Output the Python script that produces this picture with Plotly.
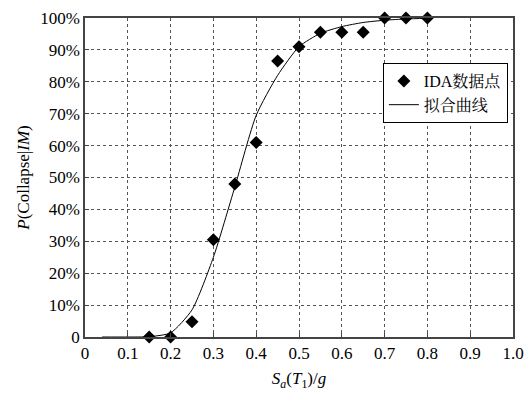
import plotly.graph_objects as go

# IDA data points
ida_x = [0.15, 0.2, 0.25, 0.3, 0.35, 0.4, 0.45, 0.5, 0.55, 0.6, 0.65, 0.7, 0.75, 0.8]
ida_y = [0.0, 0.0, 4.8, 30.5, 48.0, 61.0, 86.5, 91.0, 95.5, 95.5, 95.5, 100.0, 100.0, 100.0]

# fitted curve
fit_x = [0.04, 0.1, 0.15, 0.2, 0.25, 0.3, 0.35, 0.4, 0.45, 0.5, 0.55, 0.6, 0.65, 0.7, 0.75, 0.8]
fit_y = [0.0, 0.0, 0.1, 1.3, 8.5, 25.0, 47.0, 69.5, 82.0, 91.0, 95.2, 97.3, 98.6, 99.3, 99.7, 99.9]

x_ticks = [0, 0.1, 0.2, 0.3, 0.4, 0.5, 0.6, 0.7, 0.8, 0.9, 1.0]
x_labels = ["0", "0.1", "0.2", "0.3", "0.4", "0.5", "0.6", "0.7", "0.8", "0.9", "1.0"]
y_ticks = [0, 10, 20, 30, 40, 50, 60, 70, 80, 90, 100]
y_labels = ["0", "10%", "20%", "30%", "40%", "50%", "60%", "70%", "80%", "90%", "100%"]

FONT = "Liberation Serif, Noto Serif CJK SC, Noto Sans CJK SC, serif"

fig = go.Figure()
fig.add_trace(go.Scatter(
    x=ida_x, y=ida_y, mode="markers", name="IDA数据点",
    marker=dict(symbol="diamond", size=10, color="black"),
    cliponaxis=False,
))
fig.add_trace(go.Scatter(
    x=fit_x, y=fit_y, mode="lines", name="拟合曲线",
    line=dict(color="black", width=1, shape="spline", smoothing=0.6),
    cliponaxis=False,
))

axis_common = dict(
    showline=True, linecolor="#444", linewidth=1.5, mirror=True,
    ticks="inside", ticklen=4, tickcolor="#444",
    showgrid=True, gridcolor="#555", griddash="dot", gridwidth=1,
    zeroline=False, automargin=False,
    tickfont=dict(family=FONT, size=17, color="black"),
)

fig.update_layout(
    width=527, height=398,
    margin=dict(l=85, r=14, t=18, b=61),
    paper_bgcolor="white", plot_bgcolor="white",
    font=dict(family=FONT, color="black"),
    showlegend=True,
    legend=dict(
        x=0.988, y=0.859, xanchor="right", yanchor="top",
        bgcolor="white", bordercolor="black", borderwidth=1,
        font=dict(family=FONT, size=16, color="black"),
        tracegroupgap=0, itemwidth=30,
    ),
    xaxis=dict(
        range=[0, 1.0], tickvals=x_ticks, ticktext=x_labels,
        title=dict(text="<i>S<sub>a</sub></i>(<i>T</i><sub>1</sub>)/<i>g</i>",
                   font=dict(family=FONT, size=17), standoff=10),
        **axis_common,
    ),
    yaxis=dict(
        range=[0, 100], tickvals=y_ticks, ticktext=y_labels,
        title=dict(text="<i>P</i>(Collapse|<i>IM</i>)",
                   font=dict(family=FONT, size=17), standoff=6),
        **axis_common,
    ),
)

fig.write_html("out.html", config={"displayModeBar": False},
               post_script="document.body.style.margin='0px';document.body.style.overflow='hidden';")
